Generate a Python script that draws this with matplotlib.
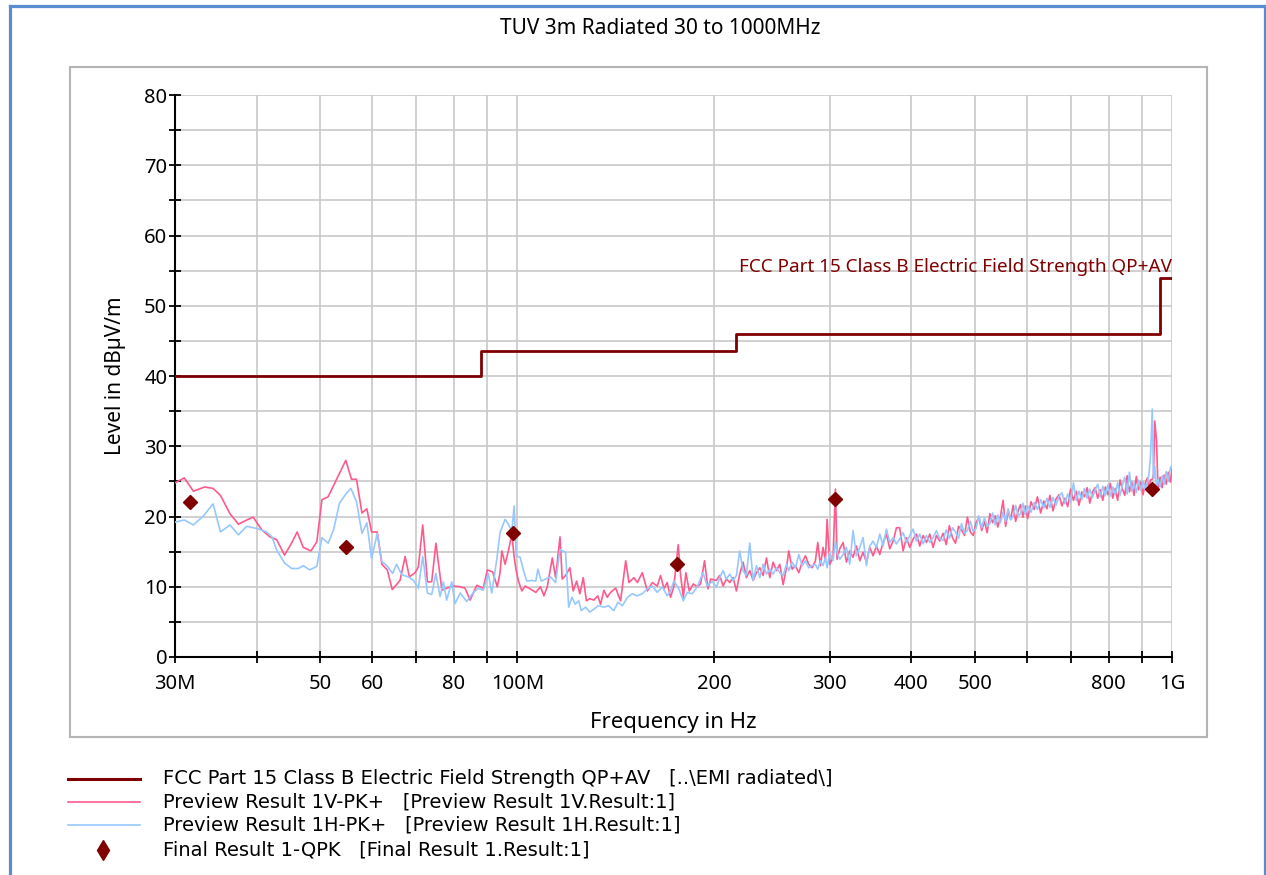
import matplotlib
matplotlib.use("Agg")
import matplotlib.pyplot as plt
from matplotlib.lines import Line2D
from matplotlib.patches import Rectangle
from matplotlib.ticker import NullLocator

plt.rcParams['font.family'] = ['Noto Sans', 'DejaVu Sans']

# FCC limit (MHz, dBuV/m)
limit_freq = [30, 88, 88, 216, 216, 960, 960, 1000]
limit_level = [40, 40, 43.5, 43.5, 46, 46, 54, 54]

# Preview 1V (pink)
v_freq = [30, 31, 32, 33.3, 34.3, 35.2, 36.4, 37.5, 38.6, 39.5, 40.7, 41.9, 42.9, 44.1, 45.2,
          46.1, 47.1, 48.4, 49.4, 50.3, 51.4, 54.7, 55.8, 56.8, 57.9, 58.9, 59.9, 61.1, 62.1,
          63.3, 64.4, 66.2, 67.4, 68.4, 69.8, 70.6, 71.7, 72.9, 74.0, 75.1, 76.7, 78.0, 79.9,
          81.8, 83.2, 84.7, 86.7, 88.7, 90.0, 91.7, 93.2,
          94.1, 94.7, 95.8, 96.9, 98.1, 98.9, 99.6, 100.4, 101.6, 102.8, 104.6, 106.7, 108.5,
          109.8, 111.1, 113.1, 114.4, 116.2, 117.1, 118.5, 120.3, 121.7, 123.2, 124.6, 126.1,
          127.5, 129.0, 130.9, 132.7, 134.0, 135.6, 137.2, 138.8, 141.3, 143.8, 146.4, 148.1,
          150.7, 152.5, 155.2, 158.0, 160.8, 163.6, 165.5, 167.5, 169.4, 171.4, 173.4, 176.1,
          177.6, 179.3, 180.9, 183.1, 185.7, 188.3, 190.5, 193.2, 195.5, 197.4]
v_level = [24.8, 25.5, 23.6, 24.2, 24.0, 23.0, 20.4, 18.9, 19.5, 19.9, 18.1, 17.1, 16.7, 14.5, 16.2,
           17.8, 15.6, 15.1, 16.4, 22.4, 22.8, 28.0, 25.3, 25.3, 20.5, 21.1, 17.8, 17.8, 13.2,
           12.4, 9.6, 10.9, 14.3, 11.4, 12.0, 12.8, 18.8, 10.7, 10.7, 16.2, 9.5, 9.8, 10.1,
           10.0, 9.8, 8.1, 10.2, 9.8, 12.4, 12.1, 10.0,
           12.0, 15.1, 13.2, 15.1, 17.5, 14.2, 12.3, 10.8, 9.4, 10.1, 9.7, 9.2, 10.0,
           8.7, 10.0, 14.1, 11.3, 17.1, 11.1, 11.6, 12.7, 9.4, 10.8, 9.0, 11.3,
           8.0, 8.3, 8.1, 8.7, 7.5, 9.5, 8.5, 9.2, 9.8, 8.0, 13.7, 10.6,
           11.3, 10.6, 12.0, 9.4, 10.6, 10.1, 11.6, 9.7, 10.6, 8.5, 10.0, 16.0,
           11.6, 8.5, 12.0, 9.4, 10.4, 10.0, 10.4, 13.7, 9.7, 11.1]

# Preview 1H (blue)
h_freq = [30, 31, 32, 33.1, 34.3, 35.2, 36.4, 37.5, 38.6, 40.0, 41.4, 42.2, 42.9, 44.1, 45.2,
          46.3, 47.1, 48.2, 49.4, 50.3, 51.4, 52.4, 53.5, 54.7, 55.7, 56.8, 57.9, 58.9, 59.9,
          61.1, 62.1, 63.2, 64.5, 65.4, 66.6, 68.2, 69.4, 70.6, 71.7, 72.9, 74.0, 75.1, 76.2,
          77.1, 78.0, 79.4, 80.3, 81.8, 83.7, 85.5, 87.2, 88.7, 90.3, 91.4, 93.0,
          94.1, 95.8, 96.9, 98.1, 98.9, 99.6, 101.0, 102.2, 103.4, 105.3, 106.7, 107.5, 108.8,
          110.4, 112.4, 114.4, 116.2, 118.5, 119.8, 121.2, 122.6, 124.1, 125.2, 127.1, 129.0,
          130.9, 132.9, 135.6, 137.9, 140.4, 142.5, 144.7, 147.3, 149.9, 152.5, 155.2, 158.0,
          160.8, 163.6, 166.5, 169.4, 171.4, 173.4, 176.5, 179.3, 181.8, 185.0, 188.3, 192.1,
          195.0, 198.5]
h_level = [19.2, 19.5, 18.8, 20.0, 21.8, 17.8, 18.8, 17.4, 18.6, 18.3, 17.8, 17.1, 15.2, 13.4, 12.6,
           12.6, 13.0, 12.4, 12.9, 17.0, 16.2, 18.1, 21.9, 23.2, 24.0, 22.1, 17.6, 19.1, 14.0,
           17.6, 13.6, 13.0, 11.9, 13.2, 11.7, 11.4, 10.9, 9.8, 14.3, 9.1, 8.9, 11.9, 8.6,
           10.7, 8.1, 10.7, 7.6, 9.1, 7.9, 9.1, 9.8, 9.5, 11.9, 9.1, 13.8,
           17.7, 19.6, 18.9, 17.9, 21.5, 14.4, 14.2, 12.3, 10.8, 10.9, 10.8, 12.5, 10.8,
           11.1, 11.4, 10.6, 15.3, 14.9, 7.1, 8.5, 7.5, 8.0, 6.6, 7.1, 6.4,
           6.8, 7.3, 7.1, 7.3, 6.6, 7.8, 7.3, 8.5, 9.0, 8.7, 9.0, 9.7,
           10.1, 9.2, 10.0, 8.7, 9.4, 10.8, 9.7, 8.0, 9.2, 9.0, 10.0, 12.0,
           10.1, 10.8]

# shared sweep points above 200 MHz
hi_freq = [201.4, 203.8, 206.2, 208.6, 211.1, 213.6, 216.1, 218.6, 221.2, 223.8, 226.5, 229.2,
           231.9, 234.6, 237.4, 240.2, 243.0, 245.9, 248.8, 251.7, 254.7, 257.7, 259.8, 262.9,
           266.0, 269.1, 272.3, 275.4, 278.7, 282.0, 285.3, 287.7, 290.4, 293.1, 295.5, 297.3,
           300.1, 303.6, 306.1, 307.9, 310.8, 314.5, 318.2, 321.9, 325.7, 329.6, 333.5, 337.4,
           341.4, 345.4, 349.5, 353.6, 357.8, 362.0, 366.3, 370.6, 375.0, 379.4, 383.8, 388.4,
           393.0, 397.6, 402.3, 407.0, 411.8, 416.7, 421.6, 426.6, 431.6, 436.7, 441.9,
           447, 452, 457, 462, 467, 472, 477, 482, 487, 492, 497, 502, 507, 512, 517, 522, 527,
           532, 537, 542, 547, 552, 557, 562, 567, 572, 577, 582, 587, 592, 597, 602, 609, 616,
           623, 630, 637, 644, 651, 658, 665, 672, 679, 686, 693, 700, 707, 714, 721, 728, 735,
           742, 749, 756, 763, 770, 777, 784, 791, 798, 805, 812, 819, 826, 833, 840, 847, 854,
           861, 868, 875, 882, 889, 896, 903, 910, 917, 922, 927, 933, 937, 941, 947, 952, 959,
           966, 973, 980, 987, 994, 1000]
hi_v_level = [10.9, 11.6, 10.1, 11.1, 10.6, 11.3, 9.4, 11.8, 13.5, 11.3, 12.3, 10.9,
              12.0, 12.7, 11.6, 14.1, 11.3, 13.5, 12.3, 13.2, 10.3, 12.7, 15.1, 12.5,
              13.0, 12.0, 13.5, 14.4, 13.2, 12.7, 13.7, 16.3, 13.0, 15.6, 13.7, 19.6,
              13.2, 14.2, 23.9, 13.9, 15.4, 16.3, 13.5, 15.1, 14.2, 15.8, 13.7, 14.9,
              13.5, 15.6, 14.4, 15.8, 14.6, 16.3, 17.5, 15.4, 16.5, 18.4, 18.4, 15.1,
              17.0, 15.6, 16.8, 17.5, 15.8, 17.3, 16.3, 17.5, 15.6, 17.3, 16.5,
              17.6, 16.0, 18.7, 17.0, 16.2, 18.6, 18.1, 17.3, 19.9, 17.8, 17.3, 19.1, 19.9, 18.0,
              19.3, 17.7, 20.4, 19.1, 20.1, 18.5, 20.0, 22.3, 18.6, 20.8, 19.6, 21.6, 19.3, 20.8,
              21.7, 19.9, 21.5, 19.7, 22.1, 21.0, 22.8, 20.5, 22.2, 21.1, 23.0, 20.8, 22.5, 23.1,
              21.5, 22.6, 21.4, 23.9, 22.3, 23.6, 21.6, 23.5, 22.8, 24.1, 21.9, 23.5, 24.1, 22.6,
              23.8, 22.3, 24.2, 23.1, 24.7, 22.6, 24.0, 22.3, 25.2, 23.9, 23.0, 25.8, 23.5, 24.9,
              23.0, 25.7, 23.8, 24.9, 23.1, 24.7, 25.5, 23.8, 25.2, 25.3, 26.0, 33.6, 30.8, 24.0,
              25.6, 24.1, 25.9, 24.6, 26.3, 24.9, 26.7]
hi_h_level = [9.9, 11.3, 12.3, 11.1, 11.8, 10.9, 11.6, 15.1, 12.3, 11.6, 16.2, 10.9,
              13.0, 11.3, 13.2, 11.8, 12.5, 11.8, 12.7, 12.0, 11.6, 13.2, 12.3, 13.5,
              12.7, 14.6, 13.0, 13.7, 12.7, 13.0, 13.2, 12.5, 13.7, 13.0, 14.2, 12.7,
              14.9, 13.7, 16.5, 14.9, 13.9, 14.6, 15.6, 13.2, 18.0, 14.4, 15.6, 17.0,
              13.0, 15.8, 16.5, 15.6, 17.5, 15.8, 18.2, 16.3, 17.0, 16.1, 16.8, 17.7,
              16.3, 17.3, 18.2, 16.5, 17.5, 16.1, 17.3, 16.3, 17.0, 18.0, 16.8,
              16.6, 18.1, 16.9, 18.4, 17.8, 16.9, 19.0, 17.6, 18.0, 19.3, 17.9, 18.3, 20.1, 18.4,
              19.8, 18.6, 19.0, 20.5, 18.8, 20.2, 19.1, 20.6, 19.3, 21.1, 19.5, 20.0, 21.6, 20.1,
              20.4, 21.9, 20.3, 21.5, 20.6, 22.0, 21.0, 22.4, 21.2, 22.6, 21.3, 22.7, 21.6, 22.9,
              23.4, 21.8, 23.2, 22.0, 24.8, 22.3, 23.6, 22.4, 24.0, 22.6, 23.9, 22.7, 23.8, 24.6,
              22.8, 24.3, 23.0, 24.5, 22.9, 24.2, 23.1, 24.8, 23.0, 24.5, 25.6, 23.2, 26.3, 23.6,
              24.8, 23.4, 25.2, 23.7, 25.0, 23.9, 24.8, 26.0, 28.4, 35.3, 25.4, 27.2, 24.1, 25.3,
              24.2, 25.8, 24.6, 26.4, 25.0, 26.9, 27.3]

# Final result QPK
qpk_freq = [31.6, 54.7, 98.4, 175.6, 306.0, 932.0]
qpk_level = [22.1, 15.7, 17.6, 13.3, 22.5, 23.9]

xtick_vals = [30, 40, 50, 60, 70, 80, 90, 100, 200, 300, 400, 500, 600, 700, 800, 900, 1000]
xtick_labels = ['30M', '', '50', '60', '', '80', '', '100M', '200', '300', '400', '500',
                '', '', '800', '', '1G']

dark_red = '#800000'
pink = '#ff5a8c'
blue = '#96c8ff'

W, H = 1266, 875
fig = plt.figure(figsize=(W / 100, H / 100), dpi=100)

# outer blue frame + grey panel
blue_frame = '#5a8cd2'
fig.add_artist(Line2D([9.5 / W] * 2, [0, 1 - 5.5 / H], color=blue_frame, lw=2.3))
fig.add_artist(Line2D([9.5 / W, 1264.5 / W], [1 - 5.5 / H] * 2, color=blue_frame, lw=2.3))
fig.add_artist(Line2D([1264.5 / W] * 2, [0, 1 - 5.5 / H], color=blue_frame, lw=2.3))
fig.add_artist(Rectangle((70 / W, 1 - 737 / H), 1137 / W, 670 / H, transform=fig.transFigure,
                         fill=False, ec='#b4b4b4', lw=1.5))

ax = fig.add_axes([175 / W, 1 - 657 / H, 997 / W, 562 / H])
ax.set_xscale('log')
ax.set_xlim(30, 1000)
ax.set_ylim(0, 80)

ax.plot(v_freq + hi_freq, v_level + hi_v_level, color=pink, lw=1.2, zorder=3)
ax.plot(h_freq + hi_freq, h_level + hi_h_level, color=blue, lw=1.2, zorder=4)
ax.plot(limit_freq, limit_level, color=dark_red, lw=2.0, zorder=5)
ax.plot(qpk_freq, qpk_level, ls='none', marker='D', ms=7.5, color=dark_red, zorder=6)

ax.text(1000, 54.3, 'FCC Part 15 Class B Electric Field Strength QP+AV', color=dark_red,
        ha='right', va='bottom', fontsize=13.6)

ax.set_xticks(xtick_vals)
ax.set_xticklabels(xtick_labels)
ax.xaxis.set_minor_locator(NullLocator())
ax.set_yticks(range(0, 81, 10))
ax.set_yticks(range(5, 80, 10), minor=True)
ax.grid(True, which='both', color='#c8c8c8', lw=1.2, zorder=0)
ax.set_axisbelow(True)
for s in ['top', 'right']:
    ax.spines[s].set_visible(False)
for s in ['left', 'bottom']:
    ax.spines[s].set_linewidth(1.5)
ax.tick_params(axis='both', which='both', direction='inout', length=9, width=1.3, labelsize=14.5)
ax.tick_params(axis='y', pad=1)
ax.tick_params(axis='x', pad=8)

ax.set_xlabel('Frequency in Hz', fontsize=16)
ax.set_ylabel('Level in dBµV/m', fontsize=15)
ax.xaxis.set_label_coords(0.5, (657 - 712) / 562)
ax.yaxis.set_label_coords((126 - 175) / 997, 0.5)

fig.text(660 / W, 1 - 28 / H, 'TUV 3m Radiated 30 to 1000MHz', ha='center', va='center', fontsize=15)

# legend below the panel
rows = [779, 802, 825, 850]
fig.add_artist(Line2D([68 / W, 140 / W], [1 - rows[0] / H] * 2, color=dark_red, lw=2.2))
fig.add_artist(Line2D([68 / W, 140 / W], [1 - rows[1] / H] * 2, color=pink, lw=1.2))
fig.add_artist(Line2D([68 / W, 140 / W], [1 - rows[2] / H] * 2, color=blue, lw=1.2))
fig.add_artist(Line2D([103 / W], [1 - rows[3] / H], ls='none', marker='d', ms=10, color=dark_red))
leg_texts = [r'FCC Part 15 Class B Electric Field Strength QP+AV   [..\EMI radiated\]',
             'Preview Result 1V-PK+   [Preview Result 1V.Result:1]',
             'Preview Result 1H-PK+   [Preview Result 1H.Result:1]',
             'Final Result 1-QPK   [Final Result 1.Result:1]']
for r, t in zip(rows, leg_texts):
    fig.text(163 / W, 1 - r / H, t, ha='left', va='center', fontsize=14, family='DejaVu Sans')

fig.savefig('out.png', dpi=100)
